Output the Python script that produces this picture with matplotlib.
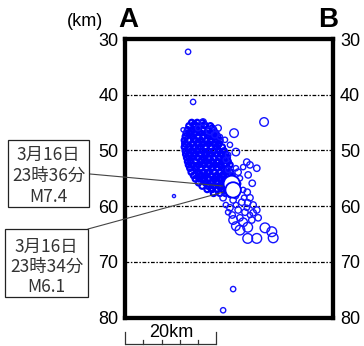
import matplotlib
matplotlib.use('Agg')
import matplotlib.pyplot as plt
from matplotlib.patches import Rectangle

W, H = 364, 346

# ---------------- data (km along section, depth km, magnitude) ----------------
core_depth = [45.0, 45.6, 46.3, 46.9, 47.5, 48.2, 48.8, 49.4, 50.1, 50.7, 51.3,
              52.0, 52.6, 53.2, 53.9, 54.5, 55.1, 55.8, 56.4, 57.0, 57.7]
core_x = [
    [14.6, 15.8, 17.0],
    [14.0, 15.2, 16.4, 17.6, 18.7],
    [13.7, 14.8, 16.0, 17.1, 18.3, 19.4],
    [13.4, 14.2, 15.4, 16.6, 17.8, 18.9, 19.9],
    [13.2, 14.8, 16.0, 17.2, 18.4, 19.5, 20.3],
    [13.0, 14.2, 15.4, 16.6, 17.8, 19.0, 20.1, 20.8],
    [13.1, 14.7, 15.9, 17.1, 18.3, 19.5, 20.6],
    [13.0, 14.1, 15.3, 16.5, 17.7, 18.9, 20.1, 21.3],
    [13.2, 14.6, 15.8, 17.0, 18.2, 19.4, 20.6, 21.7],
    [13.3, 14.1, 15.3, 16.5, 17.7, 18.9, 20.1, 21.2, 22.1],
    [13.5, 14.7, 15.9, 17.1, 18.3, 19.5, 20.7, 21.8, 22.4],
    [13.7, 14.3, 15.4, 16.6, 17.8, 19.0, 20.2, 21.3, 22.6],
    [13.9, 14.9, 16.1, 17.3, 18.5, 19.7, 20.9, 22.0, 23.0],
    [14.2, 15.4, 16.6, 17.8, 19.0, 20.2, 21.4, 22.5],
    [14.5, 16.0, 17.2, 18.4, 19.6, 20.8, 22.0, 23.1],
    [15.0, 16.5, 17.7, 18.9, 20.1, 21.3, 22.5, 23.4],
    [15.4, 16.2, 17.2, 18.4, 19.6, 20.8, 22.0, 23.2],
    [16.1, 17.6, 18.8, 20.0, 21.2, 22.4, 23.5],
    [16.9, 18.2, 19.4, 20.6, 21.8, 23.0],
    [18.0, 19.1, 20.3, 21.5, 22.7],
    [19.4, 20.8, 22.0, 23.2, 24.4],
]
core_mag = 1.6

# in-between events of the dense cloud
fill_x = [15.2, 17.4, 19.1, 14.4, 16.2, 18.0, 19.8, 15.0, 16.9, 18.7, 20.4,
          14.1, 16.0, 17.6, 19.3, 21.0, 15.1, 16.8, 18.6, 20.5, 21.9,
          15.6, 17.4, 19.2, 21.0, 22.3, 16.3, 18.0, 19.9, 21.7, 17.5, 19.3, 21.2, 22.9,
          18.9, 20.9, 22.3]
fill_depth = [45.3, 45.4, 46.0, 46.6, 46.7, 47.2, 47.3, 48.0, 48.5, 48.4, 49.0,
              49.8, 49.7, 50.4, 50.2, 50.6, 51.0, 51.7, 51.5, 52.1, 51.6,
              52.9, 52.3, 53.0, 52.8, 53.5, 54.2, 54.0, 54.8, 54.3, 55.4, 55.6, 55.2, 56.0,
              56.9, 56.6, 57.3]

other_x = [13.8, 14.9, 30.5, 10.7, 23.7, 21.5,
           20.4, 18.6, 23.9, 17.1, 16.0, 12.7, 19.7, 20.8,
           24.3, 22.6, 26.7, 27.4, 28.9, 25.9, 24.8, 27.0, 27.9, 26.8, 27.4,
           22.6, 23.5, 24.3, 25.2, 24.8, 25.9, 23.0, 22.1, 23.0, 21.9,
           21.5, 23.7, 25.6, 26.9, 28.1, 23.0, 24.8, 26.3, 28.1, 28.9, 23.5,
           25.2, 27.8, 29.2, 22.1, 24.3, 22.6, 26.7, 26.1, 24.3, 27.4,
           25.2, 26.9, 26.9, 28.9, 30.7, 32.2, 32.5, 23.7, 25.9, 24.3]
other_depth = [32.3, 41.3, 44.9, 58.2, 74.9, 78.7,
               46.0, 46.5, 46.9, 44.9, 46.0, 46.3, 47.2, 47.6,
               50.3, 50.8, 52.1, 52.6, 53.2, 53.0, 53.9, 54.4, 55.9, 57.5, 58.5,
               53.5, 54.4, 53.2, 55.0, 56.0, 57.1, 58.0, 51.7, 49.0, 48.1,
               58.5, 58.9, 59.3, 59.4, 59.8, 60.3, 60.7, 61.1, 61.2, 60.7, 61.6,
               62.1, 62.5, 62.1, 59.8, 59.8, 61.1, 60.3, 58.5, 58.2, 61.6,
               64.3, 63.8, 65.8, 65.8, 63.9, 64.6, 65.7, 62.5, 62.9, 63.6]
other_mag = [1.5, 1.5, 3.0, 0.5, 1.5, 1.5,
             2.0, 2.5, 3.0, 2.0, 1.5, 1.0, 2.0, 1.5,
             2.5, 1.5, 2.0, 2.0, 2.0, 1.5, 2.0, 2.0, 2.0, 2.0, 2.0,
             1.5, 1.5, 1.5, 1.5, 1.5, 1.5, 1.5, 1.5, 1.5, 1.5,
             2.0, 2.0, 2.0, 2.0, 2.0, 2.0, 2.0, 2.0, 2.0, 2.0, 2.0,
             2.0, 2.0, 2.0, 1.5, 1.5, 1.5, 1.5, 1.5, 1.5, 1.5,
             3.5, 3.5, 3.5, 3.5, 3.5, 3.5, 3.5, 3.0, 3.0, 3.0]

big_x = [23.4, 23.7]
big_depth = [56.0, 57.1]
big_mag = [7.4, 6.1]

box_lines = [["3月16日", "23時36分", "M7.4"],
             ["3月16日", "23時34分", "M6.1"]]

depth_ticks = [30, 40, 50, 60, 70, 80]
grid_depths = [40, 50, 60, 70]
scale_km = 20
scale_minor = [4, 8, 12, 16]


def size_of(m):
    r = 1.0 + 1.1 * min(m, 6.5)          # radius in px
    return (2 * r * 72 / 100.0) ** 2


# ---------------- figure ----------------
fig = plt.figure(figsize=(W / 100, H / 100), dpi=100)
ax = fig.add_axes([125.3 / W, 1 - 317.5 / H, 207.7 / W, 278.5 / H])
ax.set_xlim(0, 45.65)
ax.set_ylim(80, 30)

num_font = 'Liberation Sans'
cjk = ['Noto Sans CJK JP', 'DejaVu Sans']

for s in ax.spines.values():
    s.set_linewidth(3.1)
    s.set_color('black')
ax.set_xticks([])
ax.set_yticks(depth_ticks)
ax.set_yticklabels([str(t) for t in depth_ticks], fontfamily=num_font, fontsize=13)
ax.tick_params(axis='y', length=0, pad=5, left=True, right=True,
               labelleft=True, labelright=True)
for lab in ax.get_yticklabels(which='both'):
    lab.set_fontfamily(num_font)

for d in grid_depths:
    ax.axhline(d, color='black', lw=0.9, ls=(0, (3, 1.3, 1.2, 1.3)), zorder=1)

# core cloud
cx, cd = [], []
for dep, row in zip(core_depth, core_x):
    for x in row:
        cx.append(x)
        cd.append(dep)
ax.scatter(cx, cd, s=size_of(core_mag), facecolors='none', edgecolors='#0000ff',
           linewidths=1.6, zorder=3)
ax.scatter(fill_x, fill_depth, s=size_of(core_mag), facecolors='none',
           edgecolors='#0000ff', linewidths=1.6, zorder=3)
ax.scatter(other_x, other_depth, s=[size_of(m) for m in other_mag],
           facecolors='none', edgecolors='#1414ff', linewidths=1.0, zorder=3)

# labels boxes (figure pixels, y from top)
boxes = [(8, 140, 89, 207), (5, 229, 88, 297)]
line_y = [[155, 176, 197], [247, 267, 287]]
for (x0, y0, x1, y1), lines, ys in zip(boxes, box_lines, line_y):
    fig.add_artist(Rectangle((x0 / W, 1 - y1 / H), (x1 - x0) / W, (y1 - y0) / H,
                             transform=fig.transFigure, fill=False,
                             ec='#222222', lw=0.9))
    xc = (x0 + x1) / 2
    for t, yy in zip(lines, ys):
        fig.text(xc / W, 1 - yy / H, t, ha='center', va='center',
                 fontsize=12.5, family=cjk, color='#333333')

# leader lines
starts = [(90, 174), (88, 229)]
ends = [(21.5, 56.4), (21.5, 57.5)]
for (sx, sy), (ex, ed) in zip(starts, ends):
    ax.annotate('', xy=(ex, ed), xycoords='data',
                xytext=(sx, H - sy), textcoords='figure pixels',
                arrowprops=dict(arrowstyle='-', color='#444444', lw=0.8,
                                shrinkA=0, shrinkB=0),
                annotation_clip=False, zorder=4)

ax.scatter(big_x, big_depth, s=[size_of(m) for m in big_mag],
           facecolors='white', edgecolors='#0000ff', linewidths=1.3, zorder=5)

# headers
fig.text(85 / W, 1 - 22 / H, '(km)', ha='center', va='center',
         fontfamily=num_font, fontsize=13)
fig.text(128 / W, 1 - 20 / H, 'A', ha='center', va='center',
         fontfamily=num_font, fontsize=20, fontweight='bold')
fig.text(328 / W, 1 - 20 / H, 'B', ha='center', va='center',
         fontfamily=num_font, fontsize=20, fontweight='bold')

# scale bar
yb = 84.8
ax.plot([0, scale_km], [yb, yb], color='#333333', lw=0.9, clip_on=False,
        solid_capstyle='butt')
for x in [0, scale_km]:
    ax.plot([x, x], [82.6, yb], color='#333333', lw=0.9, clip_on=False)
for x in scale_minor:
    ax.plot([x, x], [84.0, yb], color='#333333', lw=0.9, clip_on=False)
ax.text(scale_km / 2, 83.5, f'{scale_km}km', ha='center', va='baseline',
        fontfamily=num_font, fontsize=13, clip_on=False)

fig.savefig('out.png', dpi=100)
